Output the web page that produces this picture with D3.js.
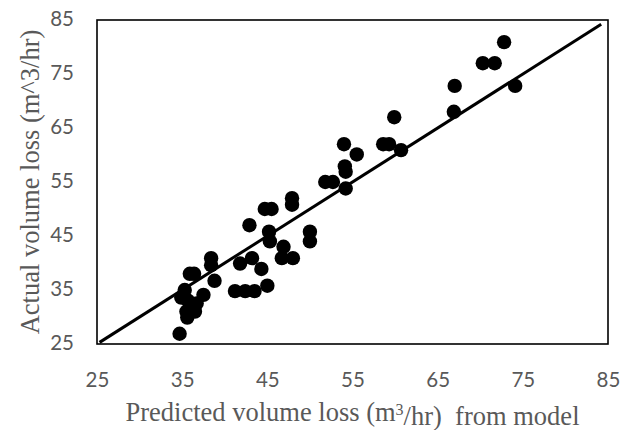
<!DOCTYPE html>
<html>
<head>
<meta charset="utf-8">
<script src="https://cdn.jsdelivr.net/npm/d3@7"></script>
<style>
    body { margin: 0; background: #fff; }
    .tick-label { font-family: Lato, "Open Sans", sans-serif; font-size: 20.5px; fill: #595959; }
    .axis-title { font-family: "Liberation Serif", "Times New Roman", serif; font-size: 26.5px; fill: #595959; white-space: pre; }
</style>
</head>
<body>
<div class="data_figure"></div>
<script>
// predicted (model) vs actual volume loss
const predicted = [34.7, 35.3, 34.9, 35.7, 36.7, 37.5, 35.5, 36.5, 35.6, 35.9,
                   36.4, 38.4, 38.4, 38.8, 41.2, 42.4, 43.5, 45.0, 41.8, 43.2,
                   44.3, 42.9, 44.7, 45.5, 45.2, 45.3, 46.9, 46.7, 48.0, 47.9,
                   47.9, 50.0, 50.0, 51.8, 52.7, 54.2, 54.1, 54.2, 54.0, 55.5,
                   58.6, 59.3, 60.7, 59.9, 66.9, 67.0, 70.3, 71.7, 72.8, 74.1];
const actual    = [26.9, 35.0, 33.6, 33.0, 32.5, 34.1, 31.0, 31.0, 29.9, 38.0,
                   38.0, 40.9, 39.6, 36.7, 34.8, 34.8, 34.8, 35.8, 39.9, 40.9,
                   38.9, 47.0, 50.0, 50.0, 45.8, 44.0, 43.0, 40.9, 40.9, 52.0,
                   50.8, 45.8, 44.0, 55.0, 55.0, 53.8, 57.9, 56.9, 62.0, 60.1,
                   62.0, 62.0, 60.9, 67.0, 68.0, 72.8, 77.0, 77.0, 80.9, 72.8];
const fitLine = [25.3, 84.2];   // y = x line ends
const xTicks = [25, 35, 45, 55, 65, 75, 85];
const yTicks = [25, 35, 45, 55, 65, 75, 85];

const width = 623;
const height = 430;
const margin = { top: 20, right: 14, bottom: 86, left: 97 };

const gData = predicted.map((p, i) => ({ x: p, y: actual[i] }));

const xScale = d3.scaleLinear()
        .domain([25, 85])
        .range([margin.left, width - margin.right - 1]);
const yScale = d3.scaleLinear()
        .domain([25, 85])
        .range([height - margin.bottom, margin.top]);

let svg = d3.select(".data_figure")
            .append("svg")
            .attr("width", width)
            .attr("height", height);

// axes without tick marks, just labels
const xAxis = svg.append("g")
    .attr("transform", "translate(0," + (height - margin.bottom) + ")")
    .call(d3.axisBottom(xScale).tickValues(xTicks).tickSize(0).tickPadding(28));
const yAxis = svg.append("g")
    .attr("transform", "translate(" + margin.left + ",0)")
    .call(d3.axisLeft(yScale).tickValues(yTicks).tickSize(0).tickPadding(23));
[xAxis, yAxis].forEach((a) => {
    a.select(".domain").remove();
    a.selectAll("text").attr("class", "tick-label").attr("fill", null)
        .style("font-size", null).style("font-family", null);
    a.attr("font-size", null).attr("font-family", null);
});
yAxis.selectAll("text").attr("dy", "0.28em");

// plot frame
svg.append("rect")
    .attr("x", xScale(25))
    .attr("y", yScale(85))
    .attr("width", xScale(85) - xScale(25))
    .attr("height", yScale(25) - yScale(85))
    .attr("fill", "none")
    .attr("stroke", "#000")
    .attr("stroke-width", 1.6);

// 1:1 line
svg.append("line")
    .attr("x1", xScale(fitLine[0]))
    .attr("y1", yScale(fitLine[0]))
    .attr("x2", xScale(fitLine[1]))
    .attr("y2", yScale(fitLine[1]))
    .attr("stroke", "#000")
    .attr("stroke-width", 3);

svg.selectAll(".dot")
    .data(gData)
    .enter()
    .append("circle")
    .attr("class", "dot")
    .attr("cx", (d) => xScale(d.x))
    .attr("cy", (d) => yScale(d.y))
    .attr("r", 7.2)
    .attr("fill", "#000");

// axis titles
const xTitle = svg.append("text")
    .attr("class", "axis-title")
    .attr("x", (xScale(25) + xScale(85)) / 2)
    .attr("y", 421)
    .attr("text-anchor", "middle");
xTitle.append("tspan").text("Predicted volume loss (m");
xTitle.append("tspan").text("3").attr("dy", "-0.4em").style("font-size", "16px");
xTitle.append("tspan").text("/hr)  from model").attr("dy", "0.4em");

svg.append("text")
    .attr("class", "axis-title")
    .attr("transform", "translate(39," + ((yScale(25) + yScale(85)) / 2) + ") rotate(-90)")
    .attr("text-anchor", "middle")
    .text("Actual volume loss (m^3/hr)");
</script>
</body>
</html>
